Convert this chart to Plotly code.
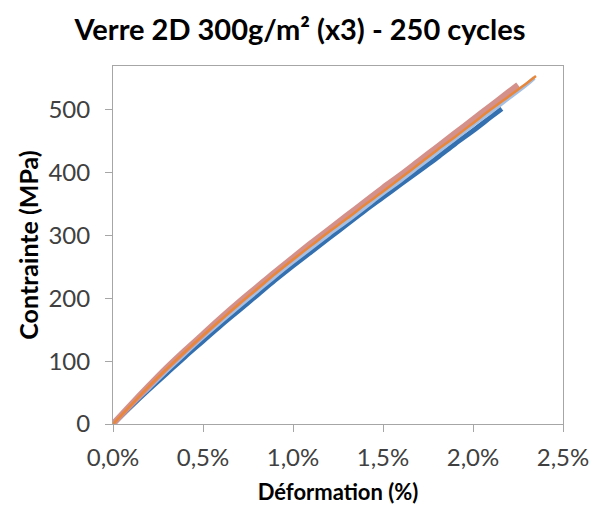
import plotly.graph_objects as go

# deformation (%) and stress (MPa), one pair per specimen
strain_1 = [0.0, 0.1, 0.2, 0.3, 0.4, 0.5, 0.6, 0.7, 0.8, 0.9, 1.0, 1.1, 1.2, 1.3, 1.4, 1.5,
            1.6, 1.7, 1.8, 1.9, 2.0, 2.1, 2.16]
stress_1 = [0, 28, 55, 81, 107, 132, 157, 181, 205, 229, 252, 274, 296, 318, 340, 361,
            382, 403, 424, 446, 467, 489, 502]

strain_2 = [0.0, 0.1, 0.2, 0.3, 0.4, 0.5, 0.6, 0.7, 0.8, 0.9, 1.0, 1.1, 1.2, 1.3, 1.4, 1.5,
            1.6, 1.7, 1.8, 1.9, 2.0, 2.1, 2.2, 2.3, 2.34]
stress_2 = [0, 29, 57, 85, 112, 138, 163, 187, 211, 235, 258, 280, 302, 323, 345, 367,
            388, 410, 432, 454, 476, 497, 519, 541, 551]

strain_3 = [0.0, 0.1, 0.2, 0.3, 0.4, 0.5, 0.6, 0.7, 0.8, 0.9, 1.0, 1.1, 1.2, 1.3, 1.4, 1.5,
            1.6, 1.7, 1.8, 1.9, 2.0, 2.1, 2.2, 2.25]
stress_3 = [0, 31, 61, 90, 117, 143, 169, 194, 218, 242, 265, 288, 310, 332, 354, 376,
            397, 419, 441, 463, 485, 507, 529, 540]

strain_4 = [0.0, 0.1, 0.2, 0.3, 0.4, 0.5, 0.6, 0.7, 0.8, 0.9, 1.0, 1.1, 1.2, 1.3, 1.4, 1.5,
            1.6, 1.7, 1.8, 1.9, 2.0, 2.1, 2.2, 2.3, 2.35]
stress_4 = [0, 30, 60, 88, 115, 141, 166, 191, 215, 239, 262, 284, 306, 327, 349, 370,
            392, 414, 436, 457, 479, 501, 522, 543, 554]

x_ticks = [0.0, 0.5, 1.0, 1.5, 2.0, 2.5]
x_labels = ["0,0%", "0,5%", "1,0%", "1,5%", "2,0%", "2,5%"]
y_ticks = [0, 100, 200, 300, 400, 500]

series = [
    (strain_1, stress_1, "#3470b0", 5),
    (strain_2, stress_2, "#a4bfe3", 4),
    (strain_3, stress_3, "#d4908a", 6),
    (strain_4, stress_4, "#e8873a", 2.5),
]

fig = go.Figure()
for x, y, color, width in series:
    fig.add_trace(
        go.Scatter(
            x=x,
            y=y,
            mode="lines",
            line={"color": color, "width": width, "shape": "spline", "smoothing": 1.0},
            showlegend=False,
        )
    )

axis_style = {
    "showgrid": False,
    "zeroline": False,
    "showline": True,
    "linecolor": "#a6a6a6",
    "linewidth": 1,
    "ticks": "outside",
    "tickcolor": "#a6a6a6",
    "ticklen": 7,
    "automargin": False,
    "tickfont": {"family": "Lato, sans-serif", "size": 24, "color": "#404040"},
}

fig.update_xaxes(
    range=[0, 2.5],
    tickvals=x_ticks,
    ticktext=x_labels,
    mirror=True,
    ticklabelstandoff=5,
    title={"text": "<b>Déformation (%)</b>",
           "font": {"family": "Lato, sans-serif", "size": 22, "color": "#000"}, "standoff": 14},
    **axis_style,
)
fig.update_yaxes(
    range=[0, 570],
    tickvals=y_ticks,
    mirror=True,
    ticklabelstandoff=10,
    title={"text": "<b>Contrainte (MPa)</b>",
           "font": {"family": "Lato, sans-serif", "size": 25, "color": "#000"}, "standoff": 2},
    **axis_style,
)

# the page body adds an 8px offset, so margins are shifted to keep the plot area in place
fig.update_layout(
    width=600,
    height=511,
    margin={"l": 105, "r": 45, "t": 58, "b": 95, "autoexpand": False},
    paper_bgcolor="white",
    plot_bgcolor="white",
    title={
        "text": "<b>Verre 2D 300g/m² (x3) - 250 cycles</b>",
        "x": 292 / 600,
        "xanchor": "center",
        "y": 1 - 22 / 511,
        "yanchor": "middle",
        "font": {"family": "Lato, sans-serif", "size": 29, "color": "#000"},
    },
)

fig.write_html("out.html")
